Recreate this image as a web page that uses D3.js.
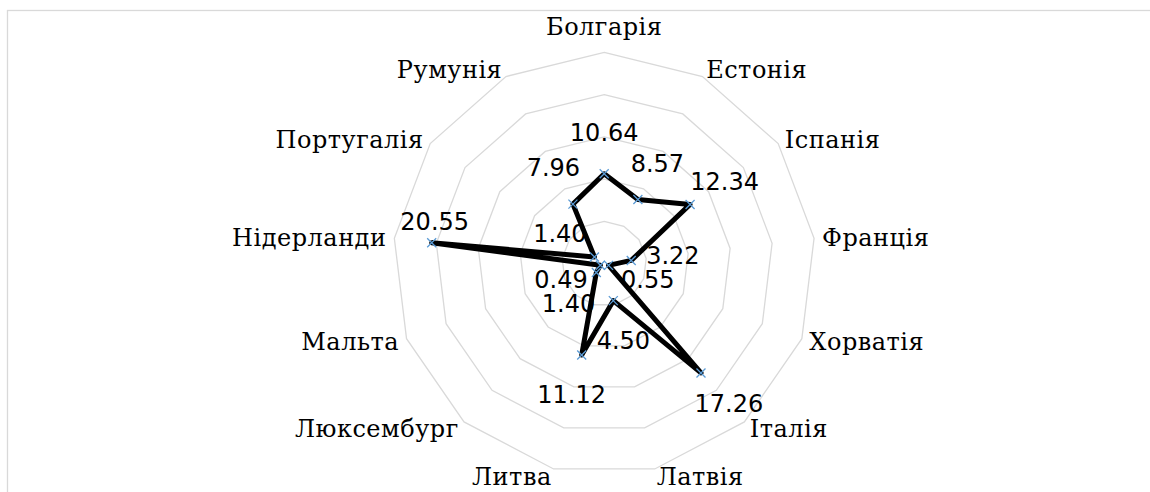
<!DOCTYPE html>
<html>
<head>
<meta charset="utf-8">
<script src="https://cdn.jsdelivr.net/npm/d3@7"></script>
<style>
  html, body { margin: 0; padding: 0; background: #fff; }
  svg { display: block; }
  .ring { fill: none; stroke: #d9d9d9; stroke-width: 1.3; }
  .cat { font-family: "DejaVu Serif", serif; font-size: 24px; letter-spacing: 0.5px; fill: #000; }
  .val { font-family: "DejaVu Sans", sans-serif; font-size: 24px; fill: #000; }
</style>
</head>
<body>
<div id="main"></div>
<script>
var width = 1150,
    height = 492;

// countries, clockwise from the top
var categories = ["Болгарія", "Естонія", "Іспанія", "Франція", "Хорватія", "Італія",
                  "Латвія", "Литва", "Люксембург", "Мальта", "Нідерланди", "Португалія", "Румунія"];
var values = [10.64, 8.57, 12.34, 3.22, 0.55, 17.26, 4.50, 11.12, 1.40, 0.49, 20.55, 1.40, 7.96];
var valueLabels = ["10.64", "8.57", "12.34", "3.22", "0.55", "17.26", "4.50", "11.12", "1.40", "0.49", "20.55", "1.40", "7.96"];
var ringTicks = [5, 10, 15, 20, 25];

var cx = 604.2, cy = 263.7, rMax = 211.4;
var n = categories.length;

var svg = d3.select("#main").append("svg")
    .attr("width", width)
    .attr("height", height);

// chart frame (only top and left edges fall inside the picture)
svg.append("rect")
    .attr("x", 7.5).attr("y", 10.5)
    .attr("width", 1300).attr("height", 700)
    .attr("fill", "none")
    .attr("stroke", "#d9d9d9")
    .attr("stroke-width", 1.3);

var r = d3.scaleLinear().domain([0, 25]).range([0, rMax]);
var angle = d3.scaleLinear().domain([0, n]).range([0, 2 * Math.PI]);

function dir(i) {
    var a = angle(i);
    return [Math.sin(a), -Math.cos(a)];
}

var g = svg.append("g").attr("transform", `translate(${cx},${cy})`);

// grid rings
var ringLine = d3.lineRadial()
    .angle(function(d, i) { return angle(i); })
    .radius(function(d) { return r(d); })
    .curve(d3.curveLinearClosed);

g.selectAll(".ring")
    .data(ringTicks)
    .enter().append("path")
    .attr("class", "ring")
    .attr("d", function(t) { return ringLine(categories.map(function() { return t; })); });

// category labels
g.selectAll(".cat")
    .data(categories)
    .enter().append("text")
    .attr("class", "cat")
    .attr("x", function(d, i) { return dir(i)[0] * (rMax + 2) + dir(i)[0] * 6; })
    .attr("y", function(d, i) {
        var u = dir(i);
        var y = u[1] * (rMax + 2);
        if (Math.abs(u[0]) < 0.05 && u[1] < 0) return y - 23.5;
        return y + u[1] * 6;
    })
    .attr("dy", "0.36em")
    .attr("text-anchor", function(d, i) {
        var x = dir(i)[0];
        return x > 0.05 ? "start" : (x < -0.05 ? "end" : "middle");
    })
    .text(function(d) { return d; });

// series line
var dataLine = d3.lineRadial()
    .angle(function(d, i) { return angle(i); })
    .radius(function(d) { return r(d); })
    .curve(d3.curveLinearClosed);

g.append("path")
    .datum(values)
    .attr("d", dataLine)
    .attr("fill", "none")
    .attr("stroke", "#000")
    .attr("stroke-width", 5)
    .attr("stroke-linejoin", "round");

// markers: small blue crosses
var pts = values.map(function(v, i) {
    var u = dir(i);
    return { x: u[0] * r(v), y: u[1] * r(v), i: i, v: v };
});

g.selectAll(".mark")
    .data(pts)
    .enter().append("path")
    .attr("class", "mark")
    .attr("d", function(d) {
        var s = 4.5;
        return `M${d.x - s},${d.y - s}L${d.x + s},${d.y + s}M${d.x - s},${d.y + s}L${d.x + s},${d.y - s}`;
    })
    .attr("stroke", "#5b9bd5")
    .attr("stroke-width", 1.3)
    .attr("fill", "none");

// value labels, pushed out along the spoke; Нідерланди label sits above its point
g.selectAll(".val")
    .data(pts)
    .enter().append("text")
    .attr("class", "val")
    .attr("x", function(d) {
        if (d.i === 10) return d.x + 3;
        return d.x + dir(d.i)[0] * 42;
    })
    .attr("y", function(d) {
        if (d.i === 10) return d.y - 21;
        return d.y + dir(d.i)[1] * 41;
    })
    .attr("dy", "0.35em")
    .attr("text-anchor", "middle")
    .text(function(d) { return valueLabels[d.i]; });
</script>
</body>
</html>
